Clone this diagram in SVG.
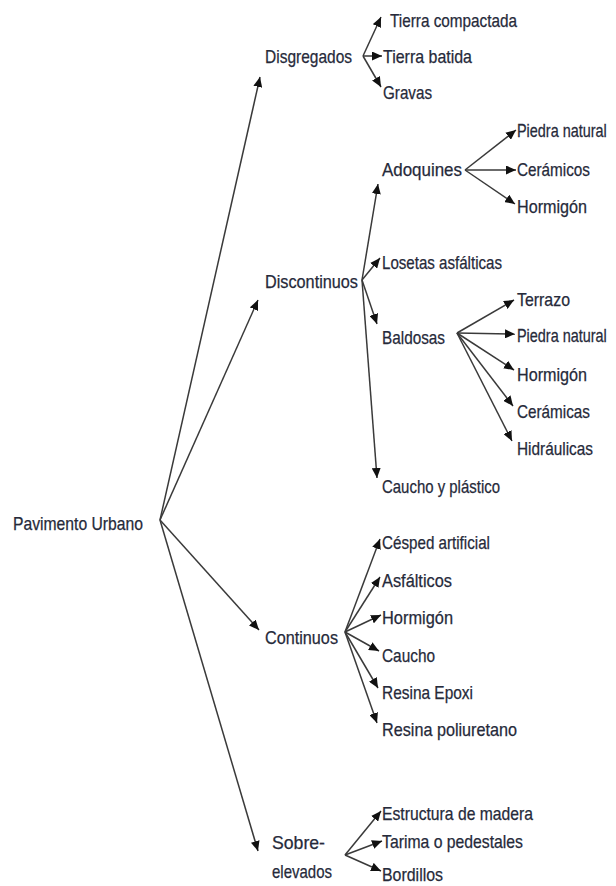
<svg xmlns="http://www.w3.org/2000/svg" width="616" height="886" viewBox="0 0 616 886">
<style>
text{font-family:"Liberation Sans",Arial,sans-serif;font-size:18.5px;fill:#262a3a;stroke:#262a3a;stroke-width:0.25}
.c line{stroke:#3a3a3a;stroke-width:1.5;marker-end:url(#ah)}
</style>
<defs>
<marker id="ah" markerUnits="userSpaceOnUse" markerWidth="11" markerHeight="9" refX="10" refY="4.5" orient="auto">
<path d="M0,0 L10,4.5 L0,9 z" fill="#111"/>
</marker>
</defs>
<rect width="616" height="886" fill="#fff"/>
<g class="c" id="connectors">
<line x1="160" y1="520" x2="260" y2="77"/>
<line x1="160" y1="520" x2="258" y2="300"/>
<line x1="160" y1="520" x2="259" y2="630"/>
<line x1="160" y1="520" x2="258" y2="851"/>
<line x1="363" y1="56" x2="381" y2="17"/>
<line x1="363" y1="56" x2="382" y2="56"/>
<line x1="363" y1="56" x2="381" y2="87"/>
<line x1="362" y1="280" x2="378" y2="184"/>
<line x1="362" y1="280" x2="380" y2="258"/>
<line x1="362" y1="280" x2="377" y2="324"/>
<line x1="362" y1="280" x2="377" y2="478"/>
<line x1="465" y1="170" x2="516" y2="130"/>
<line x1="465" y1="170" x2="516" y2="170"/>
<line x1="465" y1="170" x2="515" y2="204"/>
<line x1="457" y1="333" x2="514" y2="300"/>
<line x1="457" y1="333" x2="515" y2="334"/>
<line x1="457" y1="333" x2="514" y2="370"/>
<line x1="457" y1="333" x2="513" y2="406"/>
<line x1="457" y1="333" x2="512" y2="441"/>
<line x1="345" y1="632" x2="380" y2="539"/>
<line x1="345" y1="632" x2="380" y2="577"/>
<line x1="345" y1="632" x2="381" y2="615"/>
<line x1="345" y1="632" x2="379" y2="651"/>
<line x1="345" y1="632" x2="378" y2="688"/>
<line x1="345" y1="632" x2="377" y2="723"/>
<line x1="345" y1="855" x2="381" y2="811"/>
<line x1="345" y1="855" x2="382" y2="841"/>
<line x1="345" y1="855" x2="381" y2="871"/>
</g>
<g id="n-root"><text x="13" y="530" textLength="130" lengthAdjust="spacingAndGlyphs">Pavimento Urbano</text></g>
<g id="n-disgregados"><text x="265" y="63" textLength="87" lengthAdjust="spacingAndGlyphs">Disgregados</text></g>
<g id="n-tierra-compactada"><text x="390" y="27" textLength="127" lengthAdjust="spacingAndGlyphs">Tierra compactada</text></g>
<g id="n-tierra-batida"><text x="383" y="63" textLength="89" lengthAdjust="spacingAndGlyphs">Tierra batida</text></g>
<g id="n-gravas"><text x="383" y="99" textLength="49" lengthAdjust="spacingAndGlyphs">Gravas</text></g>
<g id="n-discontinuos"><text x="265" y="288" textLength="93" lengthAdjust="spacingAndGlyphs">Discontinuos</text></g>
<g id="n-adoquines"><text x="382" y="176" textLength="80" lengthAdjust="spacingAndGlyphs">Adoquines</text></g>
<g id="n-ado-piedra"><text transform="translate(517,137) scale(0.78,1)" x="0" y="0">Piedra natural</text></g>
<g id="n-ado-ceramicos"><text x="517" y="176" textLength="73" lengthAdjust="spacingAndGlyphs">Cerámicos</text></g>
<g id="n-ado-hormigon"><text x="517" y="213" textLength="70" lengthAdjust="spacingAndGlyphs">Hormigón</text></g>
<g id="n-losetas"><text x="382" y="269" textLength="120" lengthAdjust="spacingAndGlyphs">Losetas asfálticas</text></g>
<g id="n-baldosas"><text x="382" y="344" textLength="63" lengthAdjust="spacingAndGlyphs">Baldosas</text></g>
<g id="n-bal-terrazo"><text x="517" y="306" textLength="53" lengthAdjust="spacingAndGlyphs">Terrazo</text></g>
<g id="n-bal-piedra"><text transform="translate(517,342) scale(0.78,1)" x="0" y="0">Piedra natural</text></g>
<g id="n-bal-hormigon"><text x="517" y="381" textLength="70" lengthAdjust="spacingAndGlyphs">Hormigón</text></g>
<g id="n-bal-ceramicas"><text x="517" y="418" textLength="73" lengthAdjust="spacingAndGlyphs">Cerámicas</text></g>
<g id="n-bal-hidraulicas"><text x="517" y="455" textLength="76" lengthAdjust="spacingAndGlyphs">Hidráulicas</text></g>
<g id="n-caucho-plastico"><text x="382" y="493" textLength="118" lengthAdjust="spacingAndGlyphs">Caucho y plástico</text></g>
<g id="n-continuos"><text x="265" y="644" textLength="73" lengthAdjust="spacingAndGlyphs">Continuos</text></g>
<g id="n-cesped"><text x="382" y="549" textLength="108" lengthAdjust="spacingAndGlyphs">Césped artificial</text></g>
<g id="n-asfalticos"><text x="382" y="587" textLength="70" lengthAdjust="spacingAndGlyphs">Asfálticos</text></g>
<g id="n-con-hormigon"><text x="382" y="624" textLength="71" lengthAdjust="spacingAndGlyphs">Hormigón</text></g>
<g id="n-caucho"><text x="382" y="662" textLength="53" lengthAdjust="spacingAndGlyphs">Caucho</text></g>
<g id="n-epoxi"><text x="382" y="699" textLength="91" lengthAdjust="spacingAndGlyphs">Resina Epoxi</text></g>
<g id="n-poliuretano"><text x="382" y="736" textLength="135" lengthAdjust="spacingAndGlyphs">Resina poliuretano</text></g>
<g id="n-sobreelevados"><text x="272" y="849" textLength="53" lengthAdjust="spacingAndGlyphs">Sobre-</text><text x="272" y="878" textLength="60" lengthAdjust="spacingAndGlyphs">elevados</text></g>
<g id="n-estructura"><text x="382" y="820" textLength="151" lengthAdjust="spacingAndGlyphs">Estructura de madera</text></g>
<g id="n-tarima"><text x="382" y="848" textLength="141" lengthAdjust="spacingAndGlyphs">Tarima o pedestales</text></g>
<g id="n-bordillos"><text x="382" y="881" textLength="61" lengthAdjust="spacingAndGlyphs">Bordillos</text></g>
</svg>
